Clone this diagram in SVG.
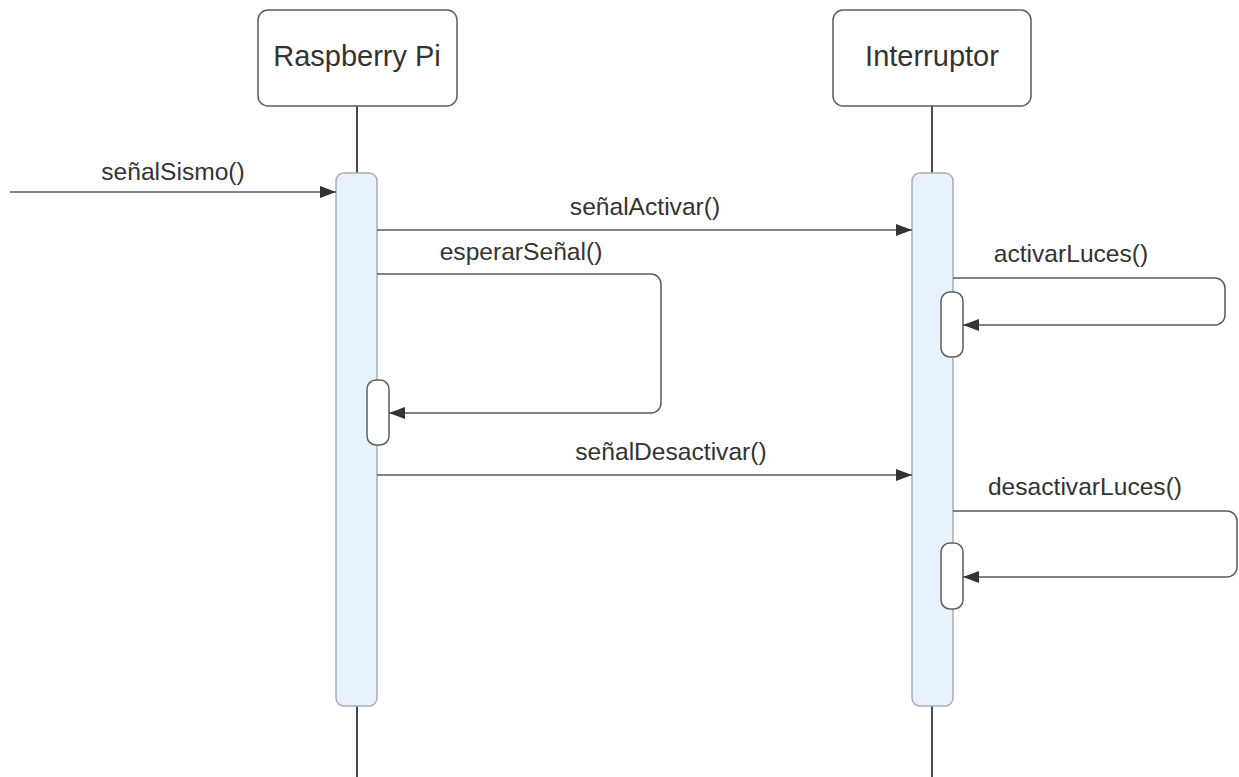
<svg xmlns="http://www.w3.org/2000/svg" width="1239" height="777" viewBox="0 0 1239 777">
<style>
.box{fill:#fff;stroke:#5e5e5e;stroke-width:1.5}
.life{stroke:#4a4a4a;stroke-width:2;fill:none}
.act{fill:#e8f2fd;stroke:#a9adb3;stroke-width:1.5}
.sub{fill:#fff;stroke:#5e5e5e;stroke-width:1.5}
.msg{stroke:#5a5a5a;stroke-width:1.5;fill:none}
.t{font-family:"Liberation Sans",Arial,sans-serif;fill:#333;text-anchor:middle}
.title{font-size:29px}
.lbl{font-size:24.6px}
</style>
<defs>
<marker id="ah" viewBox="0 0 16 12" refX="16" refY="6" markerWidth="16" markerHeight="12" markerUnits="userSpaceOnUse" orient="auto">
<path d="M0,0 L16,6 L0,12 Z" fill="#333"/>
</marker>
</defs>
<g id="lifelines">
<line class="life" x1="357" y1="106" x2="357" y2="777"/>
<line class="life" x1="932" y1="106" x2="932" y2="777"/>
</g>
<g id="raspberry">
<rect class="box" x="258" y="10" width="199" height="96" rx="10"/>
<text class="t title" x="357" y="66">Raspberry Pi</text>
</g>
<g id="interruptor">
<rect class="box" x="833" y="10" width="198" height="96" rx="10"/>
<text class="t title" x="932" y="66">Interruptor</text>
</g>
<g id="act-raspberry">
<rect class="act" x="336" y="173" width="41" height="533" rx="8"/>
</g>
<g id="act-interruptor">
<rect class="act" x="912" y="173" width="41" height="533" rx="8"/>
</g>
<g id="sub-esperar">
<rect class="sub" x="367" y="380" width="22" height="65" rx="9"/>
</g>
<g id="sub-activar">
<rect class="sub" x="941" y="292" width="22" height="65" rx="9"/>
</g>
<g id="sub-desactivar">
<rect class="sub" x="941" y="543" width="22" height="66" rx="9"/>
</g>
<g id="connectors">
<line class="msg" x1="10" y1="192" x2="336" y2="192" marker-end="url(#ah)"/>
<line class="msg" x1="377" y1="230" x2="912" y2="230" marker-end="url(#ah)"/>
<path class="msg" d="M377,274 H651 A10,10 0 0 1 661,284 V403 A10,10 0 0 1 651,413 H389" marker-end="url(#ah)"/>
<line class="msg" x1="377" y1="475" x2="912" y2="475" marker-end="url(#ah)"/>
<path class="msg" d="M953,278 H1215 A10,10 0 0 1 1225,288 V315 A10,10 0 0 1 1215,325 H963" marker-end="url(#ah)"/>
<path class="msg" d="M953,511 H1227 A10,10 0 0 1 1237,521 V567 A10,10 0 0 1 1227,577 H963" marker-end="url(#ah)"/>
</g>
<g id="labels">
<text class="t lbl" x="173" y="180">señalSismo()</text>
<text class="t lbl" x="645" y="215">señalActivar()</text>
<text class="t lbl" x="521" y="260">esperarSeñal()</text>
<text class="t lbl" x="671" y="460">señalDesactivar()</text>
<text class="t lbl" x="1071" y="262">activarLuces()</text>
<text class="t lbl" x="1085" y="495">desactivarLuces()</text>
</g>
</svg>
